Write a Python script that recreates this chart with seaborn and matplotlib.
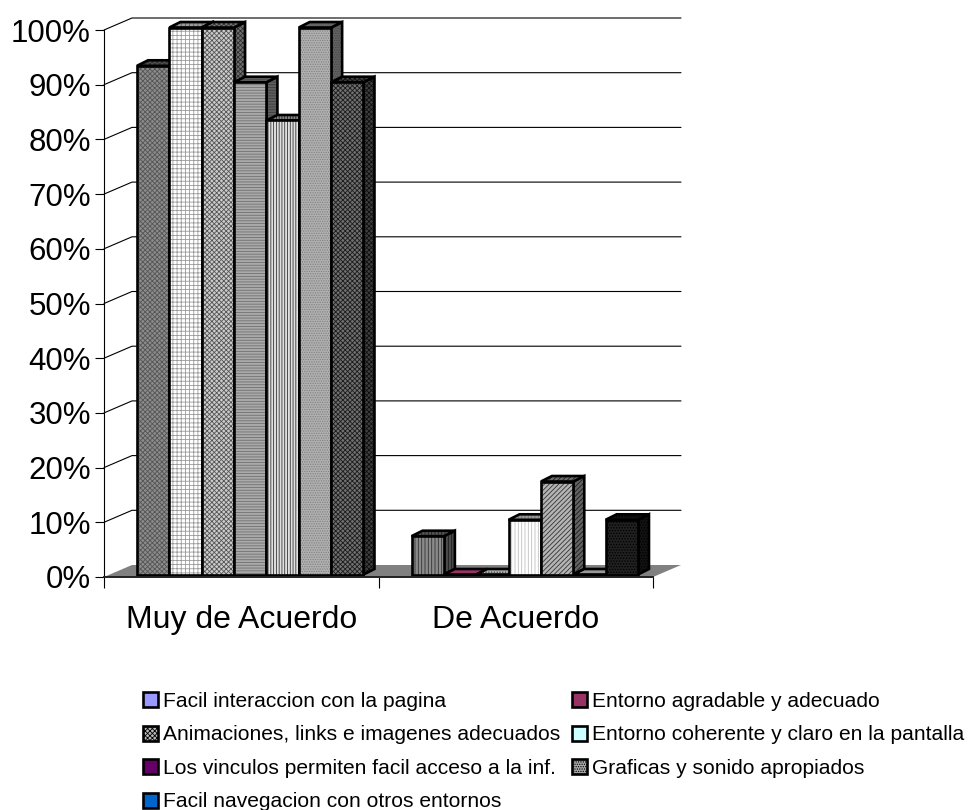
import pandas as pd
import seaborn as sns
from matplotlib import pyplot as plt
from matplotlib.colors import to_rgb
from matplotlib.patches import Patch, Polygon

categories = ['Muy de Acuerdo', 'De Acuerdo']
series = [
    'Facil interaccion con la pagina',
    'Entorno agradable y adecuado',
    'Animaciones, links e imagenes adecuados',
    'Entorno coherente y claro en la pantalla',
    'Los vinculos permiten facil acceso a la inf.',
    'Graficas y sonido apropiados',
    'Facil navegacion con otros entornos',
]
muy_de_acuerdo = [93, 100, 100, 90, 83, 100, 90]
de_acuerdo = [7, 0, 0, 10, 17, 0, 10]
y_ticks = list(range(0, 101, 10))

# face, hatch, hatch colour for each bar, one list per category
styles = [
    [('#8c8c8c', 'xxxxxxx', '#555555'), ('#ffffff', '++++', '#9a9a9a'),
     ('#cccccc', 'xxxxxxx', '#555555'), ('#aaaaaa', '------', '#707070'),
     ('#e0e0e0', '||||||', '#333333'), ('#b0b0b0', '.......', '#808080'),
     ('#707070', 'xxxxxxx', '#1c1c1c')],
    [('#8a8a8a', '|||||', '#333333'), ('#993366', None, '#993366'),
     ('#b0b0b0', '......', '#707070'), ('#ffffff', '|||||', '#c0c0c0'),
     ('#b4b4b4', '///////', '#333333'), ('#999999', None, '#999999'),
     ('#202020', '......', '#000000')],
]
legend_styles = [
    ('#9999ff', None), ('#993366', None), ('#b8b8b8', 'xxxxxxx'), ('#ccffff', None),
    ('#660066', None), ('#a8a8a8', '.......'), ('#0066cc', None),
]


def shade(color, factor):
    r, g, b = to_rgb(color)
    return (r * factor, g * factor, b * factor)


def draw_face(ax, pts, face, hatch, hatch_color, z):
    """Filled polygon with a hatch and a black outline on top."""
    ax.add_patch(Polygon(pts, closed=True, facecolor=face, edgecolor=hatch_color, hatch=hatch,
                         linewidth=0, zorder=z, clip_on=False))
    ax.add_patch(Polygon(pts, closed=True, fill=False, edgecolor='black', linewidth=1.9,
                         joinstyle='miter', zorder=z + 0.1, clip_on=False))


sns.set_style('ticks')
plt.rcParams['font.family'] = ['Liberation Sans', 'DejaVu Sans']
plt.rcParams['hatch.linewidth'] = 0.6

W, H = 968, 810
fig = plt.figure(figsize=(W / 100, H / 100), dpi=100)
ax = fig.add_axes([104 / W, (H - 577) / H, 549 / W, 547 / H])
ax.patch.set_alpha(0)

df = pd.DataFrame({
    'categoria': categories * len(series),
    'serie': [s for s in series for _ in categories],
    'valor': [v for pair in zip(muy_de_acuerdo, de_acuerdo) for v in pair],
})
sns.barplot(data=df, x='categoria', y='valor', hue='serie', order=categories, hue_order=series,
            width=0.825, gap=0, dodge=True, legend=False, errorbar=None, ax=ax)

ax.set_xlim(-0.5, 1.5)
ax.set_ylim(0, 100)
ux = 2 / 549
uy = 100 / 547

# back wall and floor
wall_dx, wall_dy = 28 * ux, 12 * uy
for v in y_ticks[1:]:
    ax.plot([-0.5, -0.5 + wall_dx, 1.5 + wall_dx], [v, v + wall_dy, v + wall_dy],
            color='black', lw=0.8, zorder=1, clip_on=False)
ax.add_patch(Polygon([(-0.5, 0), (-0.5 + wall_dx, wall_dy), (1.5 + wall_dx, wall_dy), (1.5, 0)],
                     closed=True, facecolor='#808080', edgecolor='none', zorder=2, clip_on=False))

# 3d look: move the bars into the chart depth and give them a side and a top
shift_x, shift_y = 9 * ux, 2.5 * uy
side_dx, side_dy = 11 * ux, 5.5 * uy
z = 3
for c in range(len(categories)):
    for s, container in enumerate(ax.containers):
        bar = container[c]
        face, hatch, hatch_color = styles[c][s]
        x0 = bar.get_x() + shift_x
        x1 = x0 + bar.get_width()
        y0 = shift_y
        y1 = y0 + bar.get_height()
        bar.set_xy((x0, y0))
        bar.set(facecolor=face, edgecolor=hatch_color, hatch=hatch, linewidth=0, zorder=z + 0.5)
        bar.set_clip_on(False)
        top_face = face if bar.get_height() == 0 else shade(face, 0.6)
        top_hatch = shade(hatch_color, 0.6)
        draw_face(ax, [(x1, y0), (x1 + side_dx, y0 + side_dy), (x1 + side_dx, y1 + side_dy), (x1, y1)],
                  shade(face, 0.55), hatch, shade(hatch_color, 0.55), z)
        draw_face(ax, [(x0, y1), (x0 + side_dx, y1 + side_dy), (x1 + side_dx, y1 + side_dy), (x1, y1)],
                  top_face, hatch, top_hatch, z + 0.2)
        ax.add_patch(Polygon([(x0, y0), (x0, y1), (x1, y1), (x1, y0)], closed=True, fill=False,
                             edgecolor='black', linewidth=1.9, joinstyle='miter',
                             zorder=z + 0.6, clip_on=False))
        z += 1

sns.despine(ax=ax)
ax.spines['left'].set_linewidth(0.8)
ax.spines['left'].set_color('black')
ax.spines['bottom'].set_linewidth(1.4)
ax.spines['bottom'].set_color('#222222')
ax.spines['bottom'].set_zorder(z)

ax.set_xlabel('')
ax.set_ylabel('')
ax.set_yticks(y_ticks)
ax.set_yticklabels([f'{v}%' for v in y_ticks], fontsize=22.5)
ax.tick_params(axis='y', length=6.5, width=0.8, pad=3, color='black', labelcolor='black')
ax.set_xticks([0, 1])
ax.set_xticklabels(categories, fontsize=23, color='black')
ax.set_xticks([-0.5, 0.5, 1.5], minor=True)
ax.tick_params(axis='x', which='major', length=0, pad=20)
ax.tick_params(axis='x', which='minor', length=8, width=0.8, color='black')

handles = [Patch(facecolor=f, edgecolor='black', hatch=h, linewidth=1.9) for f, h in legend_styles]
order = [0, 2, 4, 6, 1, 3, 5]
fig.legend([handles[i] for i in order], [series[i] for i in order], ncol=2, loc='upper left',
           bbox_to_anchor=(143 / W, 1 - 692 / H), frameon=False, fontsize=15.1, labelcolor='black',
           handlelength=0.72, handleheight=0.72, handletextpad=0.25, labelspacing=0.69,
           columnspacing=0.55, borderaxespad=0, borderpad=0)

fig.savefig('out.png', dpi=100)
plt.close(fig)
